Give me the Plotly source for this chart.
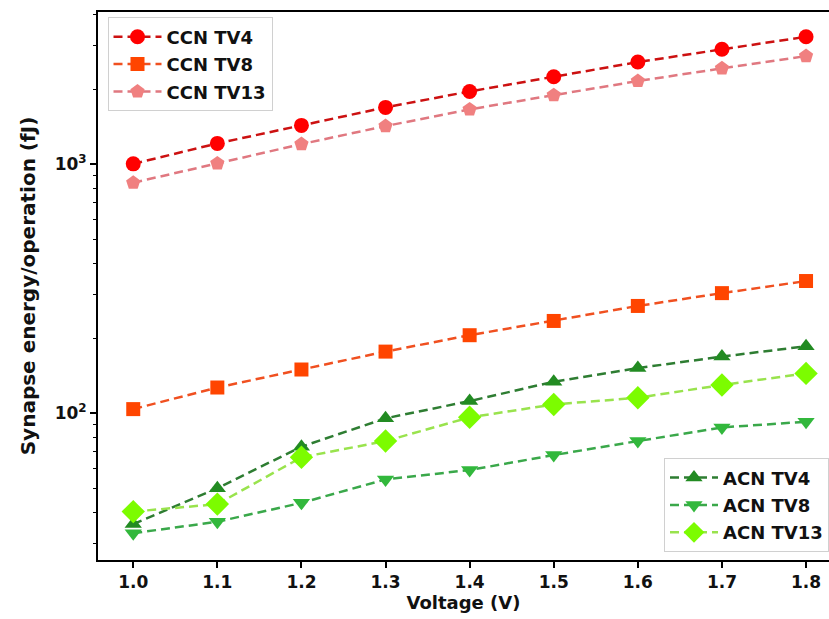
import plotly.graph_objects as go

voltage = [1.0, 1.1, 1.2, 1.3, 1.4, 1.5, 1.6, 1.7, 1.8]

ccn_tv4 = [1005, 1214, 1434, 1694, 1963, 2249, 2576, 2898, 3254]
ccn_tv8 = [104, 127, 150, 177, 206, 235, 270, 304, 340]
ccn_tv13 = [844, 1009, 1206, 1425, 1663, 1897, 2161, 2430, 2723]
acn_tv4 = [35.9, 50, 73.5, 95.5, 112, 134, 152, 169, 186]
acn_tv8 = [33.0, 36.7, 43.7, 54.3, 59.2, 68, 77.4, 87.8, 92.5]
acn_tv13 = [40.3, 43.2, 66.6, 77.4, 96.4, 108.6, 115.5, 130, 144.7]

ytick_vals = [100, 1000]
ytick_text = ["<b>10<sup>2</sup></b>", "<b>10<sup>3</sup></b>"]
minor_vals = [30, 40, 50, 60, 70, 80, 90, 200, 300, 400, 500, 600, 700, 800, 900, 2000, 3000, 4000]
xtick_text = ["<b>%.1f</b>" % v for v in voltage]

series = [
    ("CCN TV4", ccn_tv4, "#ff0000", "#cc1111", "circle", 15, "legend"),
    ("CCN TV8", ccn_tv8, "#ff4500", "#f05020", "square", 14, "legend"),
    ("CCN TV13", ccn_tv13, "#f08080", "#e07880", "pentagon", 15, "legend"),
    ("ACN TV4", acn_tv4, "#228b22", "#2e7d32", "triangle-up", 15, "legend2"),
    ("ACN TV8", acn_tv8, "#32b83c", "#3aa84a", "triangle-down", 15, "legend2"),
    ("ACN TV13", acn_tv13, "#7cfc00", "#99e34d", "diamond", 18, "legend2"),
]

fig = go.Figure()
for i, (name, vals, mcol, lcol, sym, size, leg) in enumerate(series):
    fig.add_trace(go.Scatter(
        x=voltage, y=vals, name="<b>" + name + "</b>", mode="lines+markers",
        line=dict(color=lcol, width=2.5, dash="9px,5px"),
        marker=dict(color=mcol, symbol=sym, size=size, line=dict(width=0)),
        legend=leg, legendgroup=name,
    ))

legend_common = dict(
    bgcolor="rgba(255,255,255,0.9)", bordercolor="#d0d0d0", borderwidth=1,
    font=dict(family="DejaVu Sans", size=18, color="#111111"),
    tracegroupgap=1, itemwidth=48,
)

fig.update_layout(
    width=829, height=619,
    margin=dict(l=98, r=0, t=12, b=59),
    plot_bgcolor="white", paper_bgcolor="white",
    font=dict(family="DejaVu Sans", color="#111111"),
    legend=dict(x=0.013, y=0.99, xanchor="left", yanchor="top", **legend_common),
    legend2=dict(x=1.0, y=0.014, xanchor="right", yanchor="bottom", **legend_common),
    xaxis=dict(
        range=[0.9581, 1.8273], tickvals=voltage, ticktext=xtick_text,
        ticks="outside", ticklen=6, tickwidth=1.5, tickcolor="black",
        showline=True, linecolor="black", linewidth=2, mirror=True,
        showgrid=False, zeroline=False,
        tickfont=dict(size=17, family="DejaVu Sans"),
        title=dict(text="<b>Voltage (V)</b>", font=dict(size=18), standoff=5),
    ),
    yaxis=dict(
        type="log", range=[1.411, 3.612], tickvals=ytick_vals, ticktext=ytick_text,
        ticks="outside", ticklen=6, tickwidth=1.5, tickcolor="black",
        showline=True, linecolor="black", linewidth=2, mirror=False,
        showgrid=False, zeroline=False,
        tickfont=dict(size=17, family="DejaVu Sans"),
        minor=dict(tickvals=minor_vals, ticks="outside", ticklen=3.5, tickwidth=1, tickcolor="black", showgrid=False),
        title=dict(text="<b>Synapse energy/operation (fJ)</b>", font=dict(size=20), standoff=14),
    ),
)

fig.write_html("out.html")
